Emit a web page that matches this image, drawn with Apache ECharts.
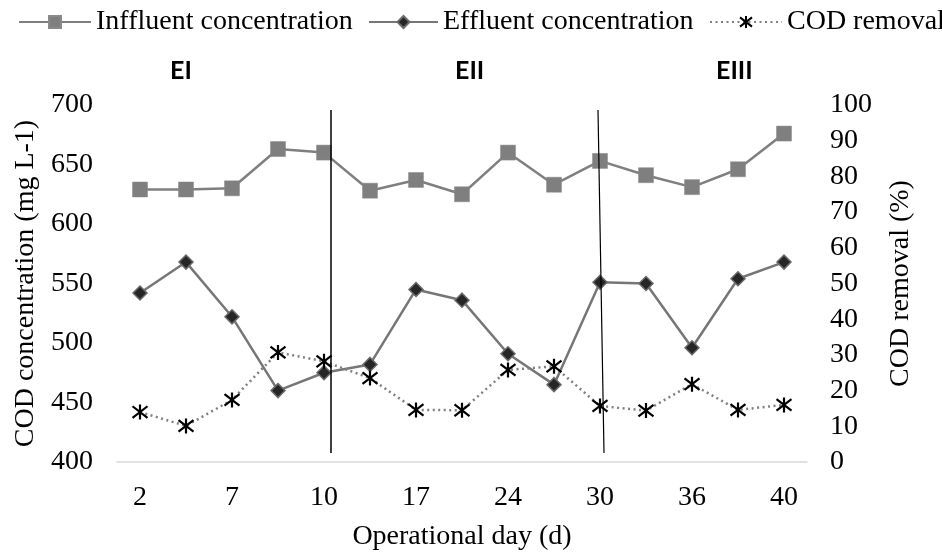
<!DOCTYPE html>
<html>
<head>
<meta charset="utf-8">
<script src="https://cdn.jsdelivr.net/npm/echarts@6/dist/echarts.min.js"></script>
<style>html,body{margin:0;padding:0;background:#fff}#c{width:942px;height:552px}</style>
</head>
<body>
<div id="c"></div>
<script>
const days = ['2','5','7','9','10','14','17','21','24','27','30','33','36','38','40'];
const influent = [629, 629, 630, 663, 660, 628, 637, 625, 660, 633, 653, 641, 631, 646, 676];
const effluent = [542, 568, 522, 460, 475, 482, 545, 536, 491, 465, 551, 550, 496, 554, 568];
const codRemoval = [14.0, 10.1, 17.4, 30.7, 28.2, 23.5, 14.6, 14.5, 25.8, 26.8, 15.7, 14.4, 21.8, 14.6, 16.0];
const leftTicks = {min: 400, max: 700, interval: 50};
const rightTicks = {min: 0, max: 100, interval: 10};
const phaseLabels = ['EI', 'EII', 'EIII'];

const serif = 'Liberation Serif';
const star = 'path://M0,0L10,10M10,0L0,10M5,-1.5L5,11.5';
const chart = echarts.init(document.getElementById('c'), null, {renderer: 'canvas'});
const legendText = {fontFamily: serif, fontSize: 28, color: '#000'};
chart.setOption({
  animation: false,
  backgroundColor: '#fff',
  legend: [
    {data: ['Inffluent concentration'], left: 13, top: 3, itemWidth: 72, itemHeight: 15, textStyle: legendText},
    {data: ['Effluent concentration'], left: 363, top: 3, itemWidth: 69, itemHeight: 15, textStyle: legendText},
    {data: ['COD removal'], left: 704, top: 3, itemWidth: 72, itemHeight: 15, textStyle: legendText}
  ],
  grid: {left: 117, right: 135, top: 105, bottom: 90, containLabel: false, outerBoundsMode: 'none'},
  xAxis: {
    type: 'category', data: days, boundaryGap: true,
    name: 'Operational day (d)', nameLocation: 'middle', nameGap: 61,
    nameTextStyle: {fontFamily: serif, fontSize: 28, color: '#000'},
    axisLine: {lineStyle: {color: '#d9d9d9', width: 1.5}},
    axisTick: {show: false},
    axisLabel: {interval: 1, fontFamily: serif, fontSize: 28, color: '#000', margin: 22}
  },
  yAxis: [
    {
      type: 'value', min: leftTicks.min, max: leftTicks.max, interval: leftTicks.interval,
      name: 'COD concentration (mg L-1)', nameLocation: 'middle', nameGap: 73, nameRotate: 90,
      nameTextStyle: {fontFamily: serif, fontSize: 28, color: '#000'},
      axisLine: {show: false}, axisTick: {show: false}, splitLine: {show: false},
      axisLabel: {fontFamily: serif, fontSize: 28, color: '#000', margin: 24}
    },
    {
      type: 'value', min: rightTicks.min, max: rightTicks.max, interval: rightTicks.interval,
      name: 'COD removal (%)', nameLocation: 'middle', nameGap: 80, nameRotate: 90,
      nameTextStyle: {fontFamily: serif, fontSize: 28, color: '#000'},
      axisLine: {show: false}, axisTick: {show: false}, splitLine: {show: false},
      axisLabel: {fontFamily: serif, fontSize: 28, color: '#000', margin: 23}
    }
  ],
  series: [
    {
      name: 'Inffluent concentration', type: 'line', data: influent, yAxisIndex: 0,
      symbol: 'rect', symbolSize: 15,
      lineStyle: {color: '#7f7f7f', width: 2.5},
      itemStyle: {color: '#7f7f7f', borderColor: '#8a8a8a', borderWidth: 0.5}
    },
    {
      name: 'Effluent concentration', type: 'line', data: effluent, yAxisIndex: 0,
      symbol: 'diamond', symbolSize: 14,
      lineStyle: {color: '#767676', width: 2.5},
      itemStyle: {color: '#262626', borderColor: '#6a6a6a', borderWidth: 1.5}
    },
    {
      name: 'COD removal', type: 'line', data: codRemoval, yAxisIndex: 1,
      symbol: star, symbolSize: 15,
      lineStyle: {color: '#7f7f7f', width: 2.5, type: [2, 3.5]},
      itemStyle: {color: 'rgba(0,0,0,0)', borderColor: '#000', borderWidth: 2.2}
    }
  ],
  graphic: [
    {type: 'line', shape: {x1: 331, y1: 110, x2: 331, y2: 453}, style: {stroke: '#000', lineWidth: 1.5}, z: 10},
    {type: 'line', shape: {x1: 598, y1: 110, x2: 604, y2: 453}, style: {stroke: '#000', lineWidth: 1.2}, z: 10},
    {type: 'text', left: 170, top: 58, style: {text: phaseLabels[0], font: 'bold 25px Lato', fill: '#000'}},
    {type: 'text', left: 455, top: 58, style: {text: phaseLabels[1], font: 'bold 25px Lato', fill: '#000'}},
    {type: 'text', left: 716, top: 58, style: {text: phaseLabels[2], font: 'bold 25px Lato', fill: '#000'}}
  ]
});
</script>
</body>
</html>
